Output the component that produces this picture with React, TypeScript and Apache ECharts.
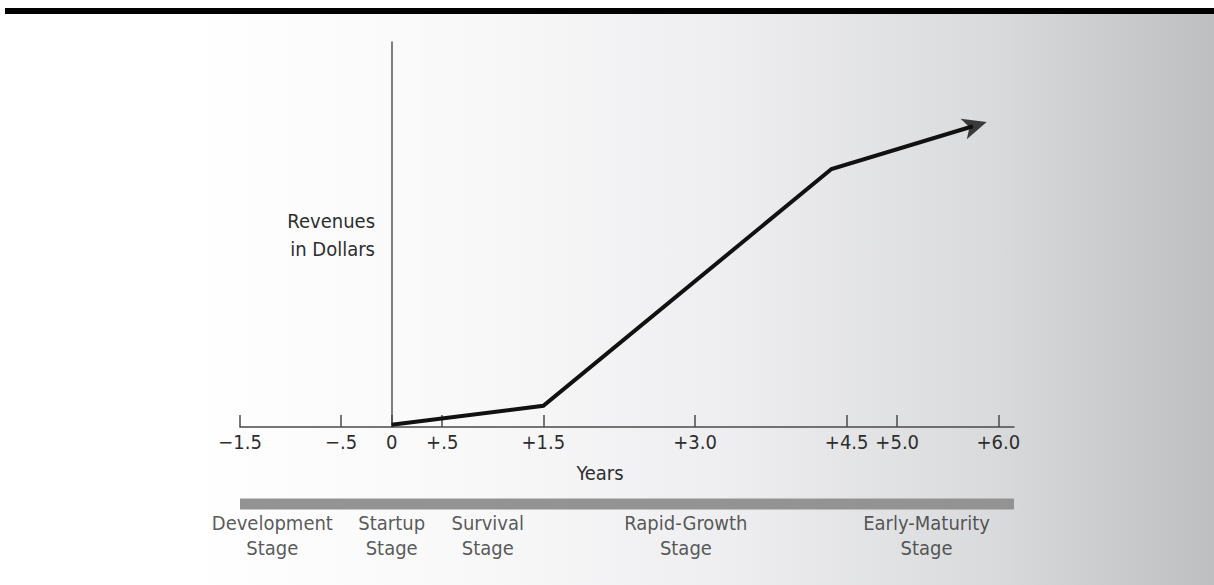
import React, { useEffect, useRef } from "react";
import * as echarts from "echarts";

// ---- data ----
const xTicks = [-1.5, -0.5, 0, 0.5, 1.5, 3, 4.5, 5, 6];
const xTickLabels = ["−1.5", "−.5", "0", "+.5", "+1.5", "+3.0", "+4.5", "+5.0", "+6.0"];
const revenueX = [0, 1.5, 4.35, 5.885];
const revenueY = [0.6, 5.5, 67, 79.2];
const stageNames = [
  "Development\nStage",
  "Startup\nStage",
  "Survival\nStage",
  "Rapid-Growth\nStage",
  "Early-Maturity\nStage",
];
const stageCenters = [-1.18, 0, 0.95, 2.91, 5.29];
const stageLabelY = -28.3;
const stageBarY = -20;
const xMin = -1.5;
const xMax = 6.155;

const FONT = "'Liberation Sans Narrow', 'DejaVu Sans Condensed', 'Arial Narrow', sans-serif";
const TEXT = "#2e2e2e";
const ARROW_W = 16;
const ARROW_H = 24;

export default function App() {
  const ref = useRef<HTMLDivElement>(null);
  useEffect(() => {
    if (!ref.current) return;
    const chart = echarts.init(ref.current, undefined, { renderer: "svg" });
    const linePts = revenueX.map((x, i) => [x, revenueY[i]]);
    const n = linePts.length;
    const base: any = {
      animation: false,
      textStyle: { fontFamily: FONT },
      graphic: [
        {
          type: "rect",
          z: -10,
          silent: true,
          shape: { x: 0, y: 0, width: 1214, height: 585 },
          style: {
            fill: new echarts.graphic.LinearGradient(0, 0, 1, 0, [
              { offset: 0, color: "#ffffff" },
              { offset: 0.15, color: "#ffffff" },
              { offset: 0.4, color: "#f8f8f9" },
              { offset: 0.6, color: "#eeeef0" },
              { offset: 0.82, color: "#d9dadc" },
              { offset: 1, color: "#bebfc1" },
            ]),
          },
        },
        {
          type: "rect",
          z: -9,
          silent: true,
          shape: { x: 0, y: 0, width: 1214, height: 8 },
          style: { fill: "#ffffff" },
        },
        {
          type: "rect",
          silent: true,
          shape: { x: 5, y: 8, width: 1209, height: 6 },
          style: { fill: "#000000" },
        },
      ],
      grid: { left: 240, right: 1214 - 1014, top: 42, bottom: 585 - 427, containLabel: false },
      xAxis: {
        type: "value",
        min: xMin,
        max: xMax,
        splitLine: { show: false },
        axisLine: { show: true, onZero: false, lineStyle: { color: "#4a4a4a", width: 1.5 } },
        axisTick: {
          show: true,
          inside: true,
          length: 12,
          customValues: xTicks,
          lineStyle: { color: "#4a4a4a", width: 1.5 },
        },
        axisLabel: {
          customValues: xTicks,
          margin: 5,
          fontSize: 20,
          color: TEXT,
          fontFamily: FONT,
          formatter: (v: number) => {
            let best = 0;
            xTicks.forEach((t, i) => {
              if (Math.abs(t - v) < Math.abs(xTicks[best] - v)) best = i;
            });
            return xTickLabels[best];
          },
        },
        name: "Years",
        nameLocation: "middle",
        nameGap: 36,
        nameTextStyle: { fontSize: 20, color: TEXT, fontFamily: FONT, padding: [0, 54, 0, 0] },
      },
      yAxis: {
        type: "value",
        min: 0,
        max: 100,
        splitLine: { show: false },
        axisTick: { show: false },
        axisLabel: { show: false },
        axisLine: { show: true, onZero: true, lineStyle: { color: "#555555", width: 1.5 } },
        name: "Revenues\nin Dollars",
        nameLocation: "middle",
        nameRotate: 0,
        nameGap: -135,
        nameTextStyle: {
          fontSize: 20,
          lineHeight: 28,
          color: TEXT,
          fontFamily: FONT,
          align: "right",
          verticalAlign: "middle",
        },
      },
      series: [
        {
          id: "revenue",
          type: "line",
          data: linePts,
          symbol: "none",
          lineStyle: { color: "#111111", width: 4, join: "miter" },
          z: 5,
        },
        {
          type: "line",
          clip: false,
          data: [
            [xMin, stageBarY],
            [xMax, stageBarY],
          ],
          symbol: "none",
          lineStyle: { color: "#939393", width: 11, cap: "butt" },
        },
        {
          type: "scatter",
          clip: false,
          symbolSize: 1,
          itemStyle: { color: "rgba(0,0,0,0)" },
          data: stageNames.map((name, i) => ({ name, value: [stageCenters[i], stageLabelY] })),
          label: {
            show: true,
            position: "inside",
            formatter: (p: any) => p.name,
            fontSize: 20,
            lineHeight: 25,
            color: TEXT,
            fontFamily: FONT,
            align: "center",
            verticalAlign: "middle",
          },
        },
      ],
    };
    chart.setOption(base);

    // arrowhead at the end of the revenue line, oriented along the last segment
    const tip = chart.convertToPixel({ gridIndex: 0 }, linePts[n - 1]) as number[];
    const prev = chart.convertToPixel({ gridIndex: 0 }, linePts[n - 2]) as number[];
    const dx = tip[0] - prev[0];
    const dy = tip[1] - prev[1];
    const len = Math.hypot(dx, dy);
    const ux = dx / len;
    const uy = dy / len;
    const lineEndPx = [tip[0] - ux * ARROW_H * 0.6, tip[1] - uy * ARROW_H * 0.6];
    const lineEnd = chart.convertFromPixel({ gridIndex: 0 }, lineEndPx) as number[];
    const angleDeg = (Math.atan2(-dy, dx) * 180) / Math.PI; // screen angle, ccw from +x
    const rotate = angleDeg - 90;

    chart.setOption({
      series: [
        {
          id: "revenue",
          data: [...linePts.slice(0, n - 1), lineEnd],
        },
        {},
        {},
        {
          type: "scatter",
          clip: false,
          z: 6,
          symbol: "arrow",
          symbolSize: [ARROW_W, ARROW_H],
          symbolRotate: rotate,
          itemStyle: { color: "#111111" },
          data: [linePts[n - 1]],
        },
      ],
    });
    return () => chart.dispose();
  }, []);
  return (
    <div
      ref={ref}
      style={{ position: "absolute", left: 0, top: 0, width: 1214, height: 585 }}
    />
  );
}
